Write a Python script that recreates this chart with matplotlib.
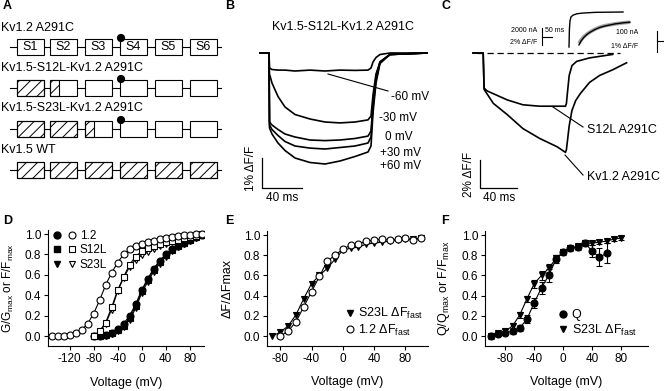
import matplotlib
matplotlib.use("Agg")
import matplotlib.pyplot as plt
from matplotlib.patches import Rectangle, Circle
from matplotlib.lines import Line2D
from matplotlib.legend_handler import HandlerTuple

plt.rcParams["font.family"] = ["Liberation Sans", "DejaVu Sans"]
plt.rcParams["hatch.linewidth"] = 0.7
plt.rcParams["axes.linewidth"] = 0.8
plt.rcParams["axes.unicode_minus"] = False

W, H = 664, 391

# ---------------- data ----------------
# A: constructs, fraction of each segment coming from Kv1.5
segments = ["S1", "S2", "S3", "S4", "S5", "S6"]
constructs = ["Kv1.2 A291C", "Kv1.5-S12L-Kv1.2 A291C",
              "Kv1.5-S23L-Kv1.2 A291C", "Kv1.5 WT"]
kv15_part = [[0, 0, 0, 0, 0, 0],
             [1, 0.35, 0, 0, 0, 0],
             [1, 1, 0.35, 0, 0, 0],
             [1, 1, 1, 1, 1, 1]]
has_cys = [True, True, True, False]

# B: fluorescence traces (ms, % dF/F)
b_t = [0, 9, 9.5, 12, 18, 25, 35, 50, 65, 80, 95, 108, 111, 113, 116, 120, 130, 167]
b_traces = {
    "-60 mV": [0, 0, -0.5, -0.55, -0.57, -0.57, -0.6, -0.57, -0.6, -0.57, -0.58, -0.57, -0.5, -0.3, -0.15, -0.05, 0, 0],
    "-30 mV": [0, 0, -0.7, -1.0, -1.45, -1.8, -2.05, -2.2, -2.3, -2.33, -2.3, -2.23, -2.1, -1.4, -0.7, -0.3, -0.05, 0],
    "0 mV": [0, 0, -2.3, -2.4, -2.55, -2.7, -2.8, -2.9, -2.92, -2.9, -2.85, -2.77, -2.6, -1.7, -0.8, -0.3, -0.05, 0],
    "+30 mV": [0, 0, -2.4, -2.55, -2.75, -2.95, -3.1, -3.17, -3.2, -3.15, -3.1, -3.0, -2.8, -1.8, -0.9, -0.3, -0.05, 0],
    "+60 mV": [0, 0, -2.5, -2.7, -3.0, -3.25, -3.5, -3.65, -3.7, -3.6, -3.45, -3.3, -3.1, -2.0, -1.0, -0.35, -0.05, 0],
}

# C: fluorescence traces (ms, % dF/F)
c_t_s12l = [0, 11, 12, 15, 37, 54, 72, 100, 101, 102, 104, 107, 112, 126, 151]
c_v_s12l = [0, 0, -2.5, -2.7, -3.35, -3.7, -3.8, -3.8, -3.6, -2.9, -1.6, -0.9, -0.6, -0.35, -0.1]
c_t_kv12 = [0, 11, 12, 14, 22, 37, 54, 72, 91, 100, 101, 104, 107, 111, 116, 126, 137, 151, 166]
c_v_kv12 = [0, 0, -2.6, -2.8, -3.6, -4.4, -5.4, -6.1, -6.7, -7.1, -6.9, -5.2, -4.1, -3.4, -2.9, -2.1, -1.6, -1.2, -0.7]
# C inset: current and fluorescence (normalised)
ins_t_cur = [20, 22, 25, 30, 40, 60, 90, 150, 290]
ins_v_cur = [0, 0.5, 0.75, 0.86, 0.91, 0.95, 0.97, 0.99, 1.0]
ins_t_fl = [70, 80, 95, 110, 125, 150, 175, 200, 250, 290, 325]
ins_v_fl = [0.1, 0.2, 0.3, 0.37, 0.43, 0.51, 0.57, 0.61, 0.66, 0.69, 0.71]
ins_v_fit = [0.06, 0.17, 0.28, 0.36, 0.42, 0.5, 0.56, 0.6, 0.66, 0.69, 0.71]

# D: G-V and F-V
d_v_12f = list(range(-150, 101, 10))
d_f_12 = [0.0, 0.0, 0.0, 0.01, 0.03, 0.06, 0.12, 0.22, 0.35, 0.50, 0.62, 0.72, 0.80, 0.85, 0.88,
          0.90, 0.92, 0.93, 0.95, 0.96, 0.97, 0.98, 0.99, 0.99, 1.0, 1.0]
d_v = list(range(-80, 101, 10))
d_f_s12 = [0.0, 0.05, 0.13, 0.28, 0.45, 0.58, 0.70, 0.78, 0.83, 0.86, 0.88, 0.90, 0.92, 0.93,
           0.94, 0.96, 0.97, 0.98, 1.0]
d_f_s23 = [0.0, 0.04, 0.12, 0.26, 0.44, 0.57, 0.68, 0.75, 0.79, 0.82, 0.85, 0.88, 0.90, 0.92,
           0.94, 0.95, 0.96, 0.98, 0.99]
d_g_12 = [0.0, 0.0, 0.01, 0.03, 0.07, 0.12, 0.2, 0.31, 0.45, 0.56, 0.66, 0.74, 0.8, 0.85,
          0.88, 0.91, 0.94, 0.97, 0.99]
d_g_s12 = [0.0, 0.0, 0.01, 0.03, 0.06, 0.1, 0.18, 0.29, 0.44, 0.55, 0.65, 0.73, 0.79, 0.84,
           0.88, 0.91, 0.94, 0.97, 0.99]
d_g_s23 = [0.0, 0.0, 0.0, 0.02, 0.05, 0.09, 0.16, 0.27, 0.42, 0.53, 0.63, 0.71, 0.78, 0.83,
           0.87, 0.9, 0.93, 0.96, 0.99]

# E: fast fluorescence component
e_v = list(range(-90, 101, 10))
e_s23 = [0.0, 0.04, 0.1, 0.21, 0.37, 0.52, 0.6, 0.67, 0.76, 0.85, 0.87, 0.88, 0.91, 0.92,
         0.93, 0.94, 0.95, 0.96, 0.96, 0.97]
e_v12 = list(range(-80, 101, 10))
e_12 = [0.0, 0.05, 0.14, 0.29, 0.44, 0.59, 0.74, 0.80, 0.86, 0.90, 0.91, 0.94, 0.95, 0.96,
        0.95, 0.96, 0.97, 0.95, 0.97]

# F: gating charge and S23L fast fluorescence
f_vq = list(range(-100, 61, 10))
f_q = [0.0, 0.02, 0.03, 0.05, 0.08, 0.17, 0.33, 0.48, 0.6, 0.76, 0.83, 0.87, 0.88, 0.92,
       0.84, 0.78, 0.82]
f_q_err = [0.02, 0.02, 0.02, 0.03, 0.03, 0.04, 0.05, 0.06, 0.06, 0.04, 0.03, 0.03, 0.03,
           0.03, 0.06, 0.09, 0.1]
f_v_s23 = list(range(-100, 81, 10))
f_s23 = [0.0, 0.03, 0.05, 0.1, 0.21, 0.37, 0.52, 0.6, 0.67, 0.77, 0.83, 0.87, 0.89, 0.92,
         0.92, 0.93, 0.94, 0.96, 0.97]
f_s23_err = [0.03, 0.02, 0.02, 0.03, 0.03, 0.03, 0.04, 0.04, 0.04, 0.03, 0.02, 0.02, 0.02,
             0.02, 0.02, 0.02, 0.02, 0.02, 0.02]


def axrect(l, t, r, b):
    return [l / W, 1 - b / H, (r - l) / W, (b - t) / H]


fig = plt.figure(figsize=(W / 100, H / 100), dpi=100)

# overlay in pixel coordinates for panel A, labels and annotations
ov = fig.add_axes([0, 0, 1, 1])
ov.set_xlim(0, W)
ov.set_ylim(H, 0)
ov.axis("off")

for lab, x, y in [("A", 3, 6), ("B", 225, 6), ("C", 441, 6),
                  ("D", 3, 221), ("E", 225, 221), ("F", 441, 221)]:
    ov.text(x, y, lab, fontsize=9, fontweight="bold", va="center", ha="left")

# ---- panel A
box_x = [17, 50, 85, 120, 155, 190]
box_w = 27
row_top = [39, 80, 121, 162]
row_txt = [28, 68, 108, 150]
box_h = 16
for r, name in enumerate(constructs):
    yt = row_top[r]
    ov.text(1, row_txt[r], name, fontsize=9, va="center", ha="left")
    ov.plot([10, 221], [yt + box_h / 2] * 2, color="black", lw=0.8, zorder=1)
    for i, seg in enumerate(segments):
        x0 = box_x[i]
        ov.add_patch(Rectangle((x0, yt), box_w, box_h, facecolor="white",
                               edgecolor="black", lw=0.8, zorder=2))
        frac = kv15_part[r][i]
        if frac > 0:
            ov.add_patch(Rectangle((x0, yt), box_w * frac, box_h, facecolor="none",
                                   edgecolor="black", hatch="///", lw=0.8, zorder=3))
        if r == 0:
            ov.text(x0 + box_w / 2, yt + box_h / 2 + 0.5, seg, fontsize=9,
                    ha="center", va="center", zorder=4)
    if has_cys[r]:
        ov.add_patch(Circle((box_x[3] + 1, yt - 1), 3.4, color="black", zorder=5))

# ---- panel B
axb = fig.add_axes(axrect(240, 35, 440, 205))
axb.set_xlim(-20, 180)
axb.set_ylim(-(205 - 53) / 30, (53 - 35) / 30)
axb.axis("off")
for lab, vals in b_traces.items():
    axb.plot(b_t, vals, color="black", lw=1.2)
axb.plot([2, 2, 42], [-3.5, -4.5, -4.5], color="black", lw=0.9, clip_on=False)
ov.text(343, 27, "Kv1.5-S12L-Kv1.2 A291C", fontsize=9, ha="center", va="center")
ov.text(251, 168, "1% ΔF/F", fontsize=8.5, rotation=90, ha="center", va="center")
ov.text(282, 198, "40 ms", fontsize=8.5, ha="center", va="center")
ov.plot([328, 388], [74, 91], color="black", lw=0.8)
b_lab_pos = {"-60 mV": (391, 97), "-30 mV": (379, 118), "0 mV": (385, 137),
             "+30 mV": (380, 153), "+60 mV": (380, 166)}
for lab, (x, y) in b_lab_pos.items():
    ov.text(x, y, lab, fontsize=8.5, ha="left", va="center")

# ---- panel C
axc = fig.add_axes(axrect(460, 5, 664, 205))
axc.set_xlim((460 - 473) * 40 / 37, (664 - 473) * 40 / 37)
axc.set_ylim(-(205 - 53) / 14, (53 - 5) / 14)
axc.axis("off")
axc.plot([4, 159], [0, 0], color="black", lw=0.9, ls=(0, (5, 3)))
axc.plot(c_t_kv12, c_v_kv12, color="black", lw=1.2)
axc.plot(c_t_s12l, c_v_s12l, color="black", lw=1.2)
axc.plot([7.6, 7.6, 47.6], [-7.64, -9.64, -9.64], color="black", lw=0.9, clip_on=False)
ov.text(469, 174, "2% ΔF/F", fontsize=8.5, rotation=90, ha="center", va="center")
ov.text(499, 198, "40 ms", fontsize=8.5, ha="center", va="center")
ov.plot([553, 583], [107, 127], color="black", lw=0.8)
ov.plot([565, 583], [155, 175], color="black", lw=0.8)
ov.text(587, 130, "S12L A291C", fontsize=9, ha="left", va="center")
ov.text(587, 177, "Kv1.2 A291C", fontsize=9, ha="left", va="center")

# C inset
axi = fig.add_axes(axrect(565, 5, 640, 50))
axi.set_xlim(0, 375)
axi.set_ylim(-3 / 35, 42 / 35)
axi.axis("off")
axi.plot(ins_t_cur, ins_v_cur, color="black", lw=1.0)
axi.plot(ins_t_fl, ins_v_fl, color="#a0a0a0", lw=2.6, solid_capstyle="butt")
axi.plot(ins_t_fl, ins_v_fit, color="black", lw=1.0)
ov.text(537, 30, "2000 nA", fontsize=5, ha="right", va="center")
ov.text(537, 43, "2% ΔF/F", fontsize=5, ha="right", va="center")
ov.plot([542, 542], [28, 45], color="black", lw=0.8)
ov.plot([542, 552], [37, 37], color="black", lw=0.8)
ov.text(545, 31, "50 ms", fontsize=5, ha="left", va="center")
ov.text(638, 33, "100 nA", fontsize=5, ha="right", va="center")
ov.text(638, 47, "1% ΔF/F", fontsize=5, ha="right", va="center")
ov.plot([657, 657], [31, 52], color="black", lw=0.8)
ov.plot([657, 664], [41, 41], color="black", lw=0.8)


# ---- panels D, E, F
def style(ax, xlim, xticks, ylabel, ylab_x, ylab_size=9):
    ax.set_facecolor("none")
    ax.set_xlim(*xlim)
    ax.set_ylim(-0.098, 1.04)
    ax.set_xticks(xticks)
    ax.set_yticks([0, 0.2, 0.4, 0.6, 0.8, 1.0])
    ax.set_yticklabels(["0.0", "0.2", "0.4", "0.6", "0.8", "1.0"])
    ax.spines["top"].set_visible(False)
    ax.spines["right"].set_visible(False)
    ax.tick_params(labelsize=8.5, length=3, width=0.8, pad=2)
    ax.set_xlabel("Voltage (mV)", fontsize=9)
    ax.xaxis.set_label_coords(0.5, -0.265)
    ax.set_ylabel(ylabel, fontsize=ylab_size)
    ax.yaxis.set_label_coords(ylab_x, 0.5)


mk = dict(ms=5, mew=0.8, mec="black", lw=0.8, color="black")

axd = fig.add_axes(axrect(48, 230, 204, 346))
style(axd, (-156, 104), [-120, -80, -40, 0, 40, 80],
      "G/G$_\\mathregular{max}$ or F/F$_\\mathregular{max}$", -0.205, ylab_size=8.5)
axd.plot(d_v, d_g_s23, marker="v", mfc="black", **mk)
axd.plot(d_v, d_g_s12, marker="s", mfc="black", **mk)
axd.plot(d_v, d_g_12, marker="o", mfc="black", **mk)
axd.plot(d_v, d_f_s23, marker="v", mfc="white", **mk)
axd.plot(d_v, d_f_s12, marker="s", mfc="white", **mk)
axd.plot(d_v_12f, d_f_12, marker="o", mfc="white", **mk)
hd = []
for m in ["o", "s", "v"]:
    hd.append((Line2D([], [], ls="none", marker=m, ms=5, mfc="black", mec="black"),
               Line2D([], [], ls="none", marker=m, ms=5, mfc="white", mec="black", mew=0.8)))
axd.legend(hd, ["1.2", "S12L", "S23L"], handler_map={tuple: HandlerTuple(ndivide=None, pad=0.6)},
           loc="upper left", bbox_to_anchor=(0.03, 1.0), frameon=False, fontsize=8.5,
           handlelength=2.0, handletextpad=0.3, labelspacing=0.2, borderaxespad=0,
           borderpad=0)

axe = fig.add_axes(axrect(267, 231, 428, 346))
style(axe, (-97, 109), [-80, -40, 0, 40, 80], "ΔF/ΔFmax", -0.21)
axe.plot(e_v, e_s23, marker="v", mfc="black", **mk)
axe.plot(e_v12, e_12, marker="o", mfc="white", **mk)
he = [Line2D([], [], ls="none", marker="v", ms=5, mfc="black", mec="black"),
      Line2D([], [], ls="none", marker="o", ms=5, mfc="white", mec="black", mew=0.8)]
axe.legend(he, ["S23L ΔF$_\\mathregular{fast}$", "1.2 ΔF$_\\mathregular{fast}$"],
           loc="lower right", bbox_to_anchor=(0.97, 0.07), frameon=False, fontsize=9,
           handlelength=0.8, handletextpad=0.3, labelspacing=0.15, borderaxespad=0,
           borderpad=0)

axf = fig.add_axes(axrect(485, 231, 648, 346))
style(axf, (-108, 117), [-80, -40, 0, 40, 80],
      "Q/Q$_\\mathregular{max}$ or F/F$_\\mathregular{max}$", -0.2)
axf.errorbar(f_v_s23, f_s23, yerr=f_s23_err, marker="v", mfc="black", capsize=2,
             elinewidth=0.8, capthick=0.8, **mk)
axf.errorbar(f_vq, f_q, yerr=f_q_err, marker="o", mfc="black", capsize=2,
             elinewidth=0.8, capthick=0.8, **mk)
hf = [Line2D([], [], ls="none", marker="o", ms=5, mfc="black", mec="black"),
      Line2D([], [], ls="none", marker="v", ms=5, mfc="black", mec="black")]
axf.legend(hf, ["Q", "S23L ΔF$_\\mathregular{fast}$"],
           loc="lower right", bbox_to_anchor=(0.93, 0.07), frameon=False, fontsize=9,
           handlelength=0.8, handletextpad=0.3, labelspacing=0.15, borderaxespad=0,
           borderpad=0)

fig.savefig("out.png", dpi=100)
